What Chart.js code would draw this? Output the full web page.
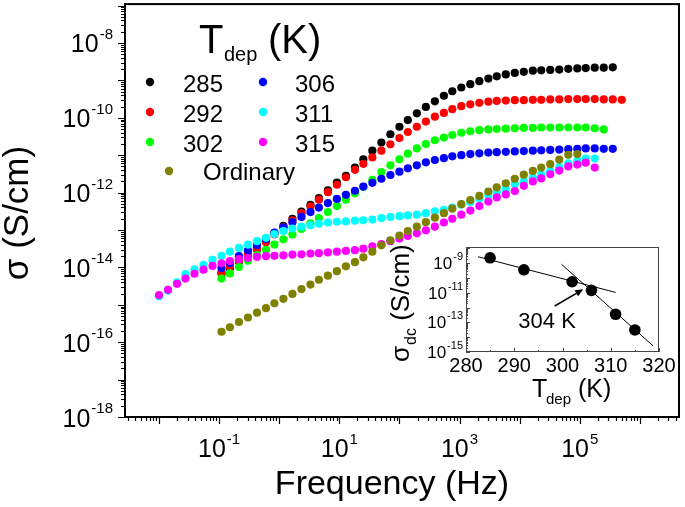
<!DOCTYPE html>
<html>
<head>
<meta charset="utf-8">
<script src="https://cdn.jsdelivr.net/npm/chart.js@4"></script>
<style>
  html, body { margin: 0; padding: 0; background: #fff; }
  #wrap { position: relative; width: 685px; height: 507px; }
  #main { position: absolute; left: 0; top: 0; }
  #inset { position: absolute; left: 370px; top: 232px; }
</style>
</head>
<body>
<div id="wrap">
  <canvas id="main" width="685" height="507"></canvas>
  <canvas id="inset" width="310" height="180"></canvas>
</div>
<script>
// log10 of frequency (Hz), shared by all series
const logFreq = [-2.00,-1.85,-1.70,-1.56,-1.41,-1.26,-1.11,-0.96,-0.82,-0.67,-0.52,-0.37,-0.22,-0.08,0.07,0.22,0.37,0.52,0.66,0.81,0.96,1.11,1.26,1.40,1.55,1.70,1.85,2.00,2.14,2.29,2.44,2.59,2.74,2.88,3.03,3.18,3.33,3.48,3.62,3.77,3.92,4.07,4.22,4.36,4.51,4.66,4.81,4.96,5.10,5.25,5.40,5.55,5.70];

// log10 of conductivity (S/cm), null where not measured
const sig285 = [null,null,null,null,null,null,null,-14.16,-14.03,-13.85,-13.68,-13.52,-13.30,-13.09,-12.89,-12.70,-12.51,-12.33,-12.15,-11.94,-11.73,-11.55,-11.33,-11.11,-10.88,-10.66,-10.44,-10.24,-10.06,-9.88,-9.71,-9.56,-9.41,-9.29,-9.19,-9.10,-9.02,-8.95,-8.89,-8.84,-8.80,-8.77,-8.74,-8.73,-8.72,-8.71,-8.69,-8.68,-8.67,-8.66,-8.66,-8.65,null];
const sig292 = [null,null,null,null,null,null,null,-14.14,-13.98,-13.82,-13.66,-13.50,-13.33,-13.12,-12.92,-12.74,-12.55,-12.37,-12.19,-11.99,-11.79,-11.59,-11.39,-11.23,-11.06,-10.88,-10.71,-10.54,-10.38,-10.24,-10.10,-9.97,-9.87,-9.77,-9.69,-9.64,-9.60,-9.57,-9.55,-9.54,-9.53,-9.53,-9.52,-9.52,-9.51,-9.51,-9.50,-9.50,-9.50,-9.50,-9.51,-9.51,-9.52];
const sig302 = [null,null,null,null,null,null,null,-14.30,-14.16,-13.99,-13.82,-13.67,-13.53,-13.39,-13.25,-13.12,-12.97,-12.82,-12.68,-12.52,-12.36,-12.19,-12.02,-11.85,-11.66,-11.45,-11.27,-11.11,-10.96,-10.82,-10.70,-10.60,-10.53,-10.46,-10.40,-10.36,-10.33,-10.31,-10.30,-10.29,-10.28,-10.27,-10.27,-10.26,-10.26,-10.26,-10.26,-10.26,-10.26,-10.28,-10.31,null,null];
const sig306 = [null,null,null,null,null,null,null,-14.02,-13.88,-13.70,-13.55,-13.40,-13.24,-13.07,-12.93,-12.79,-12.65,-12.52,-12.40,-12.28,-12.17,-12.06,-11.95,-11.84,-11.74,-11.63,-11.53,-11.44,-11.35,-11.27,-11.19,-11.13,-11.08,-11.03,-11.00,-10.97,-10.95,-10.93,-10.92,-10.91,-10.90,-10.89,-10.88,-10.87,-10.86,-10.85,-10.84,-10.83,-10.82,-10.82,-10.83,-10.83,null];
const sig311 = [-14.77,-14.62,-14.40,-14.18,-14.05,-13.93,-13.80,-13.69,-13.58,-13.48,-13.39,-13.30,-13.21,-13.11,-13.03,-12.96,-12.91,-12.87,-12.83,-12.80,-12.78,-12.77,-12.75,-12.74,-12.72,-12.68,-12.65,-12.63,-12.61,-12.59,-12.55,-12.50,-12.46,-12.40,-12.32,-12.25,-12.16,-12.06,-11.99,-11.90,-11.78,-11.70,-11.60,-11.52,-11.42,-11.32,-11.22,-11.15,-11.09,-11.09,null,null,null];
const sig315 = [-14.74,-14.60,-14.44,-14.30,-14.17,-14.06,-13.96,-13.89,-13.83,-13.78,-13.75,-13.72,-13.70,-13.69,-13.68,-13.66,-13.65,-13.63,-13.62,-13.60,-13.58,-13.56,-13.54,-13.50,-13.44,-13.38,-13.30,-13.23,-13.16,-13.09,-13.01,-12.91,-12.80,-12.70,-12.59,-12.48,-12.36,-12.24,-12.13,-12.05,-11.96,-11.82,-11.70,-11.62,-11.51,-11.41,-11.30,-11.25,-11.20,-11.33,null,null,null];
const sigOrdinary = [null,null,null,null,null,null,null,-15.72,-15.60,-15.46,-15.34,-15.21,-15.09,-14.96,-14.84,-14.71,-14.58,-14.46,-14.33,-14.22,-14.10,-13.97,-13.86,-13.73,-13.58,-13.41,-13.28,-13.15,-13.03,-12.91,-12.79,-12.67,-12.55,-12.43,-12.31,-12.20,-12.09,-11.97,-11.86,-11.75,-11.63,-11.52,-11.42,-11.33,-11.24,-11.12,-10.99,-10.97,null,null,null,null,null];

const seriesLabels = ["285", "292", "302", "306", "311", "315", "Ordinary"];
const seriesColors = ["#000000", "#ff0000", "#00ff00", "#0000ff", "#00ffff", "#ff00ff", "#808000"];
const seriesValues = [sig285, sig292, sig302, sig306, sig311, sig315, sigOrdinary];

// inset: dc conductivity vs deposition temperature
const tdep = [285, 292, 302, 306, 311, 315];
const logSigmaDc = [-8.63, -9.44, -10.25, -10.83, -12.45, -13.51];
const fitLowT = [282.5, 311.0];
const fitLowLog = [-8.56, -10.97];
const fitHighT = [299.8, 318.8];
const fitHighLog = [-9.07, -14.59];

const xTickExp = [-1, 1, 3, 5];
const yTickExp = [-18, -16, -14, -12, -10, -8];
const insetXTicks = [280, 290, 300, 310, 320];
const insetYTickExp = [-9, -11, -13, -15];

const FONT = '"Liberation Sans", Arial, sans-serif';

// "10" with a superscript exponent; y is the baseline of "10"
function powLabel(ctx, x, y, exp, bSize, eSize, rise, align) {
    ctx.textBaseline = "alphabetic";
    ctx.textAlign = "left";
    ctx.font = bSize + "px " + FONT;
    const bw = ctx.measureText("10").width;
    ctx.font = eSize + "px " + FONT;
    const ew = ctx.measureText(exp).width;
    const x0 = align === "right" ? x - bw - ew - 1 : x - (bw + ew + 1) / 2;
    ctx.font = bSize + "px " + FONT;
    ctx.fillText("10", x0, y);
    ctx.font = eSize + "px " + FONT;
    ctx.fillText(exp, x0 + bw + 1, y - rise);
}

const mainDecor = {
    id: "mainDecor",
    afterDraw(chart) {
        const { ctx, chartArea: ca, scales } = chart;
        const xs = scales.x, ys = scales.y;
        ctx.save();
        ctx.strokeStyle = "#000";
        ctx.fillStyle = "#000";

        // frame
        ctx.lineWidth = 2;
        ctx.strokeRect(ca.left, ca.top, ca.right - ca.left, ca.bottom - ca.top);

        // log ticks, outward on left and bottom
        ctx.lineWidth = 1.2;
        ctx.beginPath();
        for (let e = -19; e <= -6; e++) {
            for (let m = 1; m <= 9; m++) {
                const v = m * Math.pow(10, e);
                if (v < ys.min * 0.999 || v > ys.max) continue;
                const py = Math.round(ys.getPixelForValue(v)) + 0.5;
                ctx.moveTo(ca.left - (m === 1 ? 7 : 4), py);
                ctx.lineTo(ca.left, py);
            }
        }
        for (let e = -3; e <= 7; e++) {
            for (let m = 1; m <= 9; m++) {
                const v = m * Math.pow(10, e);
                if (v < xs.min || v > xs.max) continue;
                const px = Math.round(xs.getPixelForValue(v)) + 0.5;
                ctx.moveTo(px, ca.bottom);
                ctx.lineTo(px, ca.bottom + (m === 1 ? 7 : 4));
            }
        }
        ctx.stroke();

        // tick labels
        yTickExp.forEach(e => {
            const py = ys.getPixelForValue(Math.pow(10, e));
            powLabel(ctx, 113, py + 9.5, String(e), 25, 15, 13.5, "right");
        });
        xTickExp.forEach(e => {
            const px = xs.getPixelForValue(Math.pow(10, e));
            powLabel(ctx, px, 457, String(e), 25, 15, 13, "center");
        });

        // axis titles
        ctx.font = "34px " + FONT;
        ctx.textAlign = "center";
        ctx.textBaseline = "alphabetic";
        ctx.fillText("Frequency (Hz)", 392, 494);
        ctx.save();
        ctx.translate(18, 213);
        ctx.rotate(-Math.PI / 2);
        ctx.font = "35px " + FONT;
        ctx.textBaseline = "middle";
        ctx.fillText("\u03c3 (S/cm)", 0, 0);
        ctx.restore();

        // legend
        ctx.textAlign = "left";
        ctx.textBaseline = "alphabetic";
        ctx.font = "40px " + FONT;
        ctx.fillText("T", 199, 53);
        ctx.font = "20px " + FONT;
        ctx.fillText("dep", 224, 61);
        ctx.font = "40px " + FONT;
        ctx.fillText("(K)", 268, 53);

        const slots = [
            [150, 82, 183, 92], [150, 112, 183, 122], [150, 142, 183, 152],
            [263, 82, 295, 92], [263, 112, 295, 122], [263, 142, 295, 152],
            [169, 171, 203, 180]
        ];
        ctx.font = "24px " + FONT;
        chart.data.datasets.forEach((ds, k) => {
            const s = slots[k];
            ctx.fillStyle = ds.backgroundColor;
            ctx.beginPath();
            ctx.arc(s[0], s[1], 4.2, 0, Math.PI * 2);
            ctx.fill();
            ctx.fillStyle = "#000";
            ctx.fillText(ds.label, s[2], s[3]);
        });
        ctx.restore();
    }
};

const mainDatasets = seriesLabels.map((label, k) => ({
    label: label,
    data: logFreq
        .map((lf, i) => seriesValues[k][i] === null ? null : { x: Math.pow(10, lf), y: Math.pow(10, seriesValues[k][i]) })
        .filter(p => p !== null),
    backgroundColor: seriesColors[k],
    borderColor: seriesColors[k],
    borderWidth: 0,
    pointRadius: 4.1,
    pointHoverRadius: 4.1,
    showLine: false,
    order: seriesLabels.length - k // later series drawn on top
}));

new Chart(document.getElementById("main"), {
    type: "scatter",
    data: { datasets: mainDatasets },
    options: {
        responsive: false,
        animation: false,
        devicePixelRatio: 1,
        events: [],
        layout: { padding: { left: 125, top: 4, right: 6, bottom: 90 } },
        plugins: { legend: { display: false }, tooltip: { enabled: false } },
        scales: {
            x: { type: "logarithmic", min: Math.pow(10, -2.566), max: Math.pow(10, 6.652), bounds: "data", display: false },
            y: { type: "logarithmic", min: 1e-18, max: Math.pow(10, -6.96), bounds: "data", display: false }
        }
    },
    plugins: [mainDecor]
});

const insetDecor = {
    id: "insetDecor",
    afterDraw(chart) {
        const { ctx, chartArea: ca, scales } = chart;
        const xs = scales.x, ys = scales.y;
        ctx.save();
        ctx.strokeStyle = "#444";
        ctx.fillStyle = "#000";
        ctx.lineWidth = 1;
        ctx.strokeRect(ca.left + 0.5, ca.top + 0.5, ca.right - ca.left - 1, ca.bottom - ca.top - 1);

        // inward ticks
        ctx.beginPath();
        for (let t = 280; t <= 320; t += 5) {
            const px = Math.round(xs.getPixelForValue(t)) + 0.5;
            ctx.moveTo(px, ca.bottom);
            ctx.lineTo(px, ca.bottom - (t % 10 === 0 ? 4 : 2));
        }
        for (let e = -15; e <= -8; e++) {
            for (let m = 1; m <= 9; m++) {
                const v = m * Math.pow(10, e);
                if (v < ys.min * 0.999 || v > ys.max) continue;
                const py = Math.round(ys.getPixelForValue(v)) + 0.5;
                ctx.moveTo(ca.left, py);
                ctx.lineTo(ca.left + (m === 1 ? 4 : 2), py);
            }
        }
        ctx.stroke();

        // tick labels
        ctx.font = "20px " + FONT;
        ctx.textAlign = "center";
        ctx.textBaseline = "alphabetic";
        insetXTicks.forEach(t => ctx.fillText(String(t), xs.getPixelForValue(t), ca.bottom + 20));
        insetYTickExp.forEach(e => {
            const py = ys.getPixelForValue(Math.pow(10, e));
            powLabel(ctx, ca.left - 3, py + 6, String(e), 17, 11, 9, "right");
        });

        // axis titles
        ctx.textAlign = "left";
        ctx.font = "25px " + FONT;
        ctx.fillText("T", ca.left + 66, ca.bottom + 45);
        ctx.font = "15px " + FONT;
        ctx.fillText("dep", ca.left + 80, ca.bottom + 52);
        ctx.font = "25px " + FONT;
        ctx.fillText("(K)", ca.left + 112, ca.bottom + 45);

        ctx.save();
        ctx.translate(ca.left - 57, ca.bottom + 10);
        ctx.rotate(-Math.PI / 2);
        ctx.font = "26px " + FONT;
        ctx.fillText("\u03c3", 0, 0);
        let w = ctx.measureText("\u03c3").width;
        ctx.font = "16px " + FONT;
        ctx.fillText("dc", w + 1, 7);
        w += ctx.measureText("dc").width + 1;
        ctx.font = "26px " + FONT;
        ctx.fillText(" (S/cm)", w, 0);
        ctx.restore();

        // arrow to the crossing point
        const x0 = xs.getPixelForValue(298.4), y0 = ys.getPixelForValue(Math.pow(10, -11.89));
        const x1 = xs.getPixelForValue(304.3), y1 = ys.getPixelForValue(Math.pow(10, -10.76));
        const ang = Math.atan2(y1 - y0, x1 - x0);
        ctx.strokeStyle = "#000";
        ctx.lineWidth = 1.5;
        ctx.beginPath();
        ctx.moveTo(x0, y0);
        ctx.lineTo(x1 - 6 * Math.cos(ang), y1 - 6 * Math.sin(ang));
        ctx.stroke();
        ctx.beginPath();
        ctx.moveTo(x1, y1);
        ctx.lineTo(x1 - 8 * Math.cos(ang) + 3.5 * Math.sin(ang), y1 - 8 * Math.sin(ang) - 3.5 * Math.cos(ang));
        ctx.lineTo(x1 - 8 * Math.cos(ang) - 3.5 * Math.sin(ang), y1 - 8 * Math.sin(ang) + 3.5 * Math.cos(ang));
        ctx.closePath();
        ctx.fill();

        ctx.font = "22px " + FONT;
        ctx.textAlign = "center";
        ctx.textBaseline = "middle";
        ctx.fillText("304 K", xs.getPixelForValue(296.8), ys.getPixelForValue(Math.pow(10, -13.0)));
        ctx.restore();
    }
};

new Chart(document.getElementById("inset"), {
    type: "scatter",
    data: {
        datasets: [
            {
                data: tdep.map((t, i) => ({ x: t, y: Math.pow(10, logSigmaDc[i]) })),
                backgroundColor: "#000",
                borderWidth: 0,
                pointRadius: 5.8,
                pointHoverRadius: 5.8,
                order: 0
            },
            {
                type: "line",
                data: fitLowT.map((t, i) => ({ x: t, y: Math.pow(10, fitLowLog[i]) })),
                borderColor: "#000",
                borderWidth: 1,
                pointRadius: 0,
                fill: false,
                order: 1
            },
            {
                type: "line",
                data: fitHighT.map((t, i) => ({ x: t, y: Math.pow(10, fitHighLog[i]) })),
                borderColor: "#000",
                borderWidth: 1,
                pointRadius: 0,
                fill: false,
                order: 1
            }
        ]
    },
    options: {
        responsive: false,
        animation: false,
        devicePixelRatio: 1,
        events: [],
        layout: { padding: { left: 96, top: 15, right: 21, bottom: 60 } },
        plugins: { legend: { display: false }, tooltip: { enabled: false } },
        scales: {
            x: { type: "linear", min: 280, max: 320, display: false },
            y: { type: "logarithmic", min: 1e-15, max: Math.pow(10, -7.9), bounds: "data", display: false }
        }
    },
    plugins: [insetDecor]
});
</script>
</body>
</html>
